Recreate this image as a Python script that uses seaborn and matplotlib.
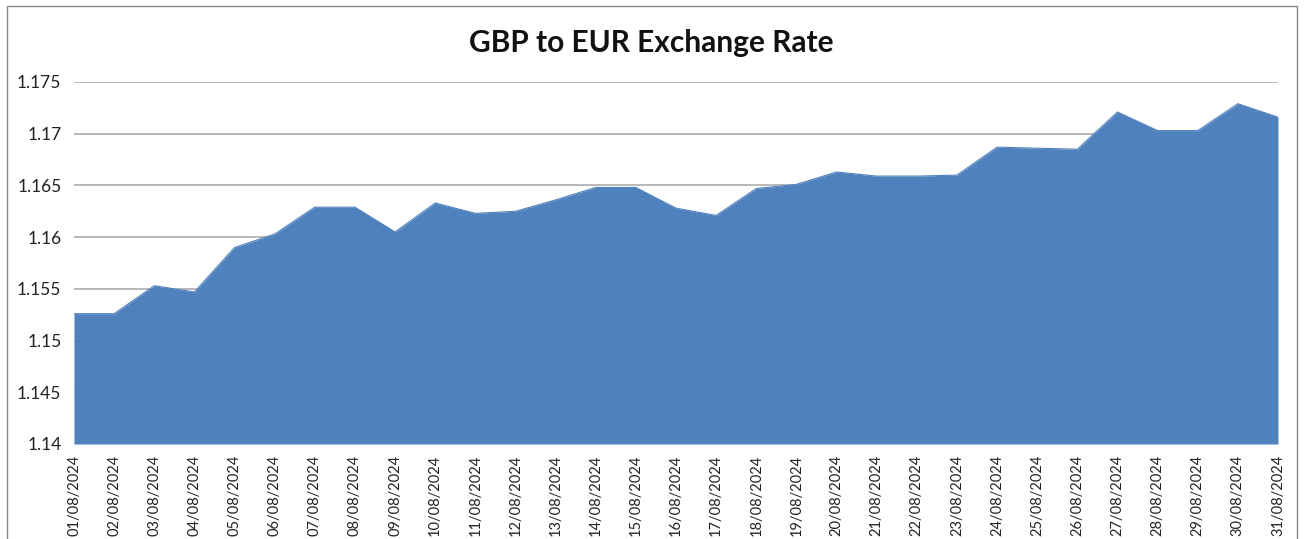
import matplotlib
matplotlib.use("Agg")
import matplotlib.pyplot as plt
import seaborn as sns
import pandas as pd
from matplotlib.patches import Rectangle

dates = [f"{d:02d}/08/2024" for d in range(1, 32)]
rates = [1.1526, 1.1526, 1.1553, 1.1547, 1.1590, 1.1603, 1.1629, 1.1629, 1.1605, 1.1633,
         1.1623, 1.1625, 1.1636, 1.1648, 1.1648, 1.1628, 1.1621, 1.1647, 1.1651, 1.1663,
         1.1659, 1.1659, 1.1660, 1.1687, 1.1686, 1.1685, 1.1721, 1.1703, 1.1703, 1.1729,
         1.1716]
yticks = [1.14, 1.145, 1.15, 1.155, 1.16, 1.165, 1.17, 1.175]
ytick_labels = ["1.14", "1.145", "1.15", "1.155", "1.16", "1.165", "1.17", "1.175"]
title = "GBP to EUR Exchange Rate"

sns.set_theme(style="white")
plt.rcParams['font.family'] = ['Lato', 'DejaVu Sans']

df = pd.DataFrame({"idx": range(len(dates)), "date": dates, "rate": rates})

fig = plt.figure(figsize=(13.04, 5.39), dpi=100)
ax = fig.add_axes([74/1304, 1 - 444/539, (1278-74)/1304, (444-82)/539])

color = "#4F81BD"
ax.fill_between(df["idx"], 1.14, df["rate"], color=color, linewidth=0, zorder=2)
sns.lineplot(data=df, x="idx", y="rate", ax=ax, color=color, linewidth=0.8, zorder=3)

ax.set_xlim(0, len(dates) - 1)
ax.set_ylim(1.14, 1.175)
ax.set_yticks(yticks)
ax.set_yticklabels(ytick_labels, fontsize=12.5, color="#222222")
ax.set_xticks(range(len(dates)))
ax.set_xticklabels(dates, rotation=90, fontsize=10.5, color="#222222")
ax.tick_params(axis="y", length=0, pad=9)
ax.tick_params(axis="x", length=0, pad=8)
ax.set_xlabel("")
ax.set_ylabel("")
ax.grid(axis="y", color="#A6A6A6", linewidth=1.1, zorder=1)
ax.set_axisbelow(True)
for s in ax.spines.values():
    s.set_visible(False)

fig.text(651/1304, 1 - 43/539, title, ha="center", va="center",
         fontsize=21.5, fontweight="bold", color="#111111")

fig.patches.append(Rectangle((7/1304, -0.02), (1297-7)/1304, 1 - 6/539 + 0.02,
                             transform=fig.transFigure, fill=False,
                             edgecolor="#888888", linewidth=1.0))

fig.savefig("out.png", dpi=100)
